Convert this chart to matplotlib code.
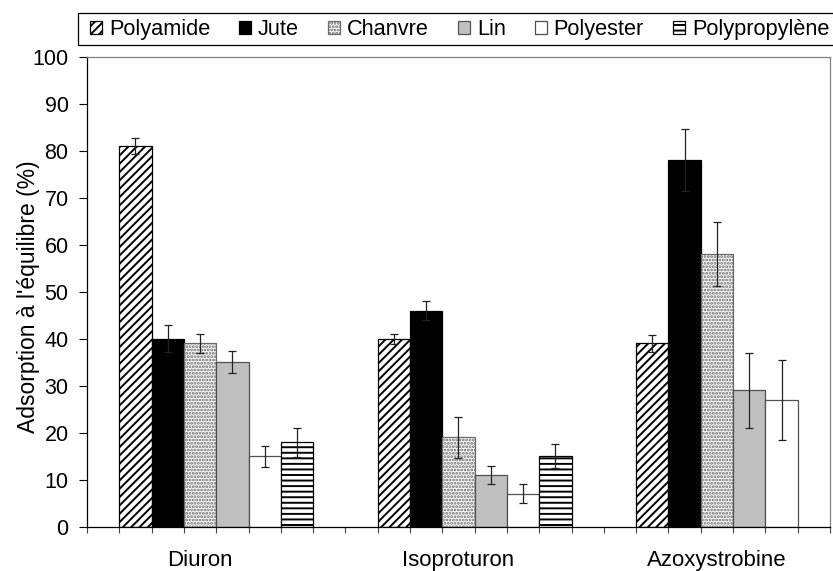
import numpy as np
import matplotlib
matplotlib.use('Agg')
import matplotlib.pyplot as plt
from matplotlib.patches import Rectangle

plt.rcParams['font.family'] = ['Liberation Sans', 'DejaVu Sans']
plt.rcParams['hatch.linewidth'] = 1.4

pesticides = ['Diuron', 'Isoproturon', 'Azoxystrobine']
fibres = ['Polyamide', 'Jute', 'Chanvre', 'Lin', 'Polyester', 'Polypropylène']

# adsorption at equilibrium (%), one value per pesticide
polyamide = [81, 40, 39]
jute = [40, 46, 78]
chanvre = [39, 19, 58]
lin = [35, 11, 29]
polyester = [15, 7, 27]
polypropylene = [18, 15, np.nan]

polyamide_err = [1.8, 1.1, 1.8]
jute_err = [2.9, 2.1, 6.6]
chanvre_err = [2.0, 4.3, 6.8]
lin_err = [2.4, 1.9, 8.0]
polyester_err = [2.2, 2.0, 8.5]
polypropylene_err = [3.1, 2.5, np.nan]

values = [polyamide, jute, chanvre, lin, polyester, polypropylene]
errors = [polyamide_err, jute_err, chanvre_err, lin_err, polyester_err, polypropylene_err]

styles = [
    dict(color='white', edgecolor='black', hatch='////'),
    dict(color='black', edgecolor='black'),
    dict(color='white', edgecolor='#6a6a6a', hatch='.....'),
    dict(color='#c0c0c0', edgecolor='#505050'),
    dict(color='white', edgecolor='#505050'),
    dict(color='white', edgecolor='black', hatch='---'),
]

W, H = 833, 571
fig = plt.figure(figsize=(W / 100, H / 100), dpi=100)
ax = fig.add_axes([87 / W, 44.3 / H, 743 / W, 470 / H])

# each group takes 7 slots (first one empty), groups separated by one slot
group_start = np.array([0, 8, 16])
handles = []
for i, (vals, errs, st) in enumerate(zip(values, errors, styles)):
    x = group_start + i + 1.5
    vals = np.array(vals, dtype=float)
    errs = np.array(errs, dtype=float)
    ok = ~np.isnan(vals)
    b = ax.bar(x[ok], vals[ok], width=1.0, linewidth=0.9, label=fibres[i], **st)
    ax.errorbar(x[ok], vals[ok], yerr=errs[ok], fmt='none', ecolor='#222222',
                elinewidth=0.9, capsize=2.6, capthick=0.9)
    handles.append(b)

ax.set_xlim(0, 23)
ax.set_ylim(0, 100)
ax.set_yticks(np.arange(0, 101, 10))
ax.tick_params(axis='y', direction='out', length=5.8, width=0.8, labelsize=15.5, pad=7.5)

ax.set_xticks(np.arange(0, 24), minor=False)
ax.set_xticklabels([])
ax.set_xticks(group_start + 3.5, minor=True)
ax.set_xticklabels(pesticides, minor=True)
ax.tick_params(axis='x', which='major', direction='out', length=4.5, width=0.8, color='#444444')
ax.tick_params(axis='x', which='minor', length=0, labelsize=16, pad=17)

ax.set_ylabel("Adsorption à l'équilibre (%)", fontsize=16.5)
ax.yaxis.set_label_coords(-0.063, 0.49)

for side in ['left', 'bottom']:
    ax.spines[side].set_color('black')
    ax.spines[side].set_linewidth(0.9)
for side in ['top', 'right']:
    ax.spines[side].set_color('#808080')
    ax.spines[side].set_linewidth(0.9)

leg = fig.legend(handles=handles, labels=fibres, ncol=6, loc='center left',
                 bbox_to_anchor=(75 / W, 1 - 29.5 / H), frameon=False,
                 fontsize=15.7, handlelength=0.55, handleheight=0.55,
                 handletextpad=0.3, columnspacing=1.35, borderpad=0.2)
fig.add_artist(Rectangle((78 / W, 1 - 45.3 / H), (845 - 78) / W, 32 / H,
                         transform=fig.transFigure, fill=False,
                         edgecolor='black', linewidth=0.9))

fig.savefig('out.png', dpi=100)
